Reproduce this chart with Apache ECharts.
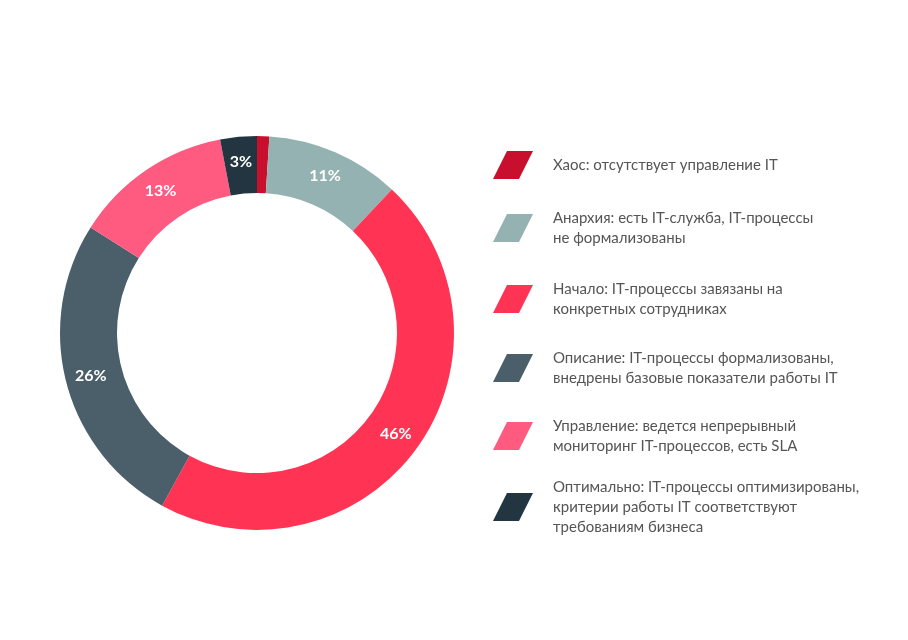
<!DOCTYPE html>
<html>
<head>
<meta charset="utf-8">
<script src="https://cdn.jsdelivr.net/npm/echarts@6/dist/echarts.min.js"></script>
<style>html,body{margin:0;background:#fff}#chart{width:908px;height:640px}</style>
</head>
<body>
<div id="chart"></div>
<script>
var names = [
    'Хаос: отсутствует управление IT',
    'Анархия: есть IT-служба, IT-процессы\nне формализованы',
    'Начало: IT-процессы завязаны на\nконкретных сотрудниках',
    'Описание: IT-процессы формализованы,\nвнедрены базовые показатели работы IT',
    'Управление: ведется непрерывный\nмониторинг IT-процессов, есть SLA',
    'Оптимально: IT-процессы оптимизированы,\nкритерии работы IT соответствуют\nтребованиям бизнеса'
];
var values = [1, 11, 46, 26, 13, 3];
var colors = ['#c8102e', '#94b2b1', '#ff3353', '#4a5f6a', '#ff5a80', '#233540'];
var legendTops = [146, 203, 274, 343, 411, 472];

var chart = echarts.init(document.getElementById('chart'));
var icon = 'path://M14,0 L40,0 L26,28 L0,28 Z';

var legends = names.map(function (n, i) {
    return {
        data: [n],
        left: 488,
        top: legendTops[i],
        icon: icon,
        itemWidth: 40,
        itemHeight: 28,
        itemGap: 0,
        selectedMode: false,
        textStyle: {
            color: '#555',
            fontFamily: 'Lato',
            fontSize: 15,
            lineHeight: 20,
            padding: [0, 0, 0, 15]
        }
    };
});

chart.setOption({
    color: colors,
    legend: legends,
    series: [{
        type: 'pie',
        center: [257, 333],
        radius: [140, 197],
        startAngle: 90,
        clockwise: true,
        silent: true,
        label: {
            position: 'inside',
            color: '#fff',
            fontFamily: 'Lato',
            fontWeight: 'bold',
            fontSize: 16,
            formatter: function (p) { return p.value > 1 ? p.value + '%' : ''; }
        },
        labelLine: {show: false},
        data: names.map(function (n, i) { return {name: n, value: values[i]}; })
    }]
});
</script>
</body>
</html>
